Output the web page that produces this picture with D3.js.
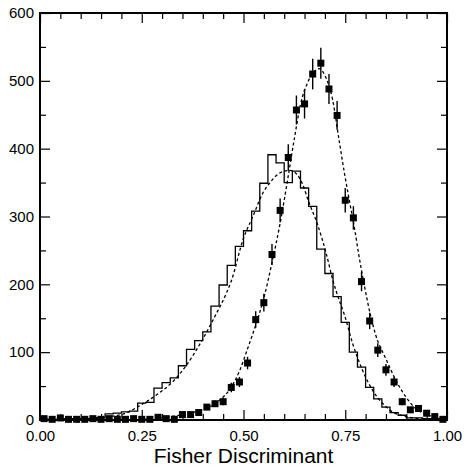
<!DOCTYPE html>
<html lang="en">
<head>
<meta charset="UTF-8">
<title>Fisher Discriminant</title>
<style>
body { margin: 0; background: #fff; }
svg { display: block; font-family: "Liberation Sans", Arial, Helvetica, sans-serif; }
</style>
</head>
<body>
<script src="https://cdn.jsdelivr.net/npm/d3@7"></script>
<script>
// histogram (solid steps), 50 bins of 0.02
var histCounts = [0, 1, 1, 2, 1, 2, 2, 3, 9, 10,
    12, 13, 25, 26, 47, 55, 62, 80, 104, 117,
    130, 168, 199, 228, 256, 279, 308, 349, 391, 379,
    350, 367, 342, 315, 252, 216, 182, 144, 100, 78,
    48, 31, 19, 11, 7, 3, 3, 2, 2, 1];

// data points (squares with error bars), same bins
var dataCounts = [2, 1, 3, 1, 1, 1, 2, 1, 2, 1,
    1, 2, 1, 1, 4, 2, 1, 8, 8, 11,
    19, 24, 27, 48, 56, 84, 148, 173, 244, 309,
    387, 457, 466, 510, 526, 488, 449, 324, 298, 204,
    146, 103, 74, 56, 27, 15, 17, 10, 5, 1];

// dashed fit curves as [x, y]
var fitHist = [[0.00, 1], [0.10, 2], [0.15, 4], [0.20, 8], [0.245, 21], [0.286, 37],
    [0.327, 57], [0.36, 81], [0.392, 111], [0.429, 152], [0.458, 187], [0.47, 205],
    [0.50, 268], [0.523, 300], [0.547, 334], [0.564, 349], [0.58, 360], [0.60, 367],
    [0.615, 368], [0.63, 363], [0.645, 348], [0.66, 322], [0.682, 288], [0.703, 246],
    [0.72, 205], [0.735, 177], [0.748, 155], [0.768, 113], [0.792, 74], [0.817, 44],
    [0.841, 25], [0.866, 12], [0.90, 5], [0.95, 1], [1.00, 0]];

var fitData = [[0.00, 0], [0.20, 0.5], [0.25, 1], [0.32, 5], [0.368, 10], [0.408, 17],
    [0.441, 29], [0.466, 45], [0.49, 72], [0.51, 105], [0.53, 140], [0.55, 180],
    [0.57, 232], [0.59, 290], [0.61, 360], [0.625, 415], [0.64, 465], [0.658, 498],
    [0.674, 514], [0.686, 518], [0.70, 508], [0.719, 472], [0.735, 412], [0.748, 364],
    [0.76, 324], [0.772, 285], [0.784, 241], [0.797, 198], [0.813, 152], [0.825, 125],
    [0.85, 90], [0.874, 59], [0.899, 34], [0.923, 17], [0.956, 7], [0.988, 2], [1.00, 1]];

var xMajor = [0, 0.25, 0.5, 0.75, 1];
var xMinor = [0.05, 0.1, 0.15, 0.2, 0.3, 0.35, 0.4, 0.45, 0.55, 0.6, 0.65, 0.7, 0.8, 0.85, 0.9, 0.95];
var yMajor = [0, 100, 200, 300, 400, 500, 600];
var yMinor = [50, 150, 250, 350, 450, 550];

var margin = {top: 13, right: 17, bottom: 47, left: 40};
var width = 464 - margin.left - margin.right;
var height = 467 - margin.top - margin.bottom;
var binWidth = 1 / histCounts.length;

var xScale = d3.scaleLinear().domain([0, 1]).range([0, width]);
var yScale = d3.scaleLinear().domain([0, 600]).range([height, 0]);

var svg = d3.select('body').append('svg')
    .attr('width', 464)
    .attr('height', 467)
    .append('g')
    .attr('transform', `translate(${margin.left}, ${margin.top})`);

// histogram as a step outline
var steps = histCounts.map((c, i) => [i * binWidth, c]);
steps.push([1, histCounts[histCounts.length - 1]]);

svg.append('path')
    .datum(steps)
    .attr('fill', 'none')
    .attr('stroke', '#000')
    .attr('stroke-width', 1.3)
    .attr('d', d3.line()
        .x(d => xScale(d[0]))
        .y(d => yScale(d[1]))
        .curve(d3.curveStepAfter));

// dashed fits
var fitLine = d3.line()
    .x(d => xScale(d[0]))
    .y(d => yScale(d[1]))
    .curve(d3.curveMonotoneX);

[fitHist, fitData].forEach(function (f) {
    svg.append('path')
        .datum(f)
        .attr('fill', 'none')
        .attr('stroke', '#000')
        .attr('stroke-width', 1.3)
        .attr('stroke-dasharray', '3,2.5')
        .attr('d', fitLine);
});

// data points with sqrt(N) error bars
var pts = svg.selectAll('.pt')
    .data(dataCounts)
    .enter().append('g')
    .attr('class', 'pt')
    .attr('transform', (d, i) => `translate(${xScale((i + 0.5) * binWidth)}, 0)`);

pts.append('line')
    .attr('y1', d => yScale(d + Math.sqrt(d)))
    .attr('y2', d => yScale(Math.max(0, d - Math.sqrt(d))))
    .attr('stroke', '#000')
    .attr('stroke-width', 1.4);

pts.append('rect')
    .attr('x', -3.5)
    .attr('y', d => yScale(d) - 3.5)
    .attr('width', 7)
    .attr('height', 7)
    .attr('fill', '#000');

// axes, ticks inside on all four sides
function ticks(axis, values, size, labels) {
    return axis.tickValues(values).tickSize(-size)
        .tickFormat(labels ? labels : '');
}

var axes = [
    [d3.axisBottom(xScale), xMinor, 6, null, `translate(0, ${height})`, 10],
    [d3.axisBottom(xScale), xMajor, 10, d3.format('.2f'), `translate(0, ${height})`, 10],
    [d3.axisTop(xScale), xMinor, 6, null, 'translate(0, 0)', 6],
    [d3.axisTop(xScale), xMajor, 10, null, 'translate(0, 0)', 6],
    [d3.axisLeft(yScale), yMinor, 6, null, 'translate(0, 0)', 6],
    [d3.axisLeft(yScale), yMajor, 10, d3.format('d'), 'translate(0, 0)', 6],
    [d3.axisRight(yScale), yMinor, 6, null, `translate(${width}, 0)`, 6],
    [d3.axisRight(yScale), yMajor, 10, null, `translate(${width}, 0)`, 6]
];

axes.forEach(function (a) {
    var g = svg.append('g')
        .attr('transform', a[4])
        .call(ticks(a[0], a[1], a[2], a[3]).tickPadding(a[5]));
    g.select('.domain').remove();
    g.selectAll('line').attr('stroke', '#000').attr('stroke-width', 1.2);
    g.selectAll('text').attr('font-size', 15).attr('fill', '#000')
        .attr('font-family', '"Liberation Sans", Arial, sans-serif');
});

svg.append('rect')
    .attr('width', width)
    .attr('height', height)
    .attr('fill', 'none')
    .attr('stroke', '#000')
    .attr('stroke-width', 2);

svg.append('text')
    .text('Fisher Discriminant')
    .attr('text-anchor', 'middle')
    .attr('font-size', 21)
    .attr('x', width / 2)
    .attr('y', height + 43);
</script>
</body>
</html>
